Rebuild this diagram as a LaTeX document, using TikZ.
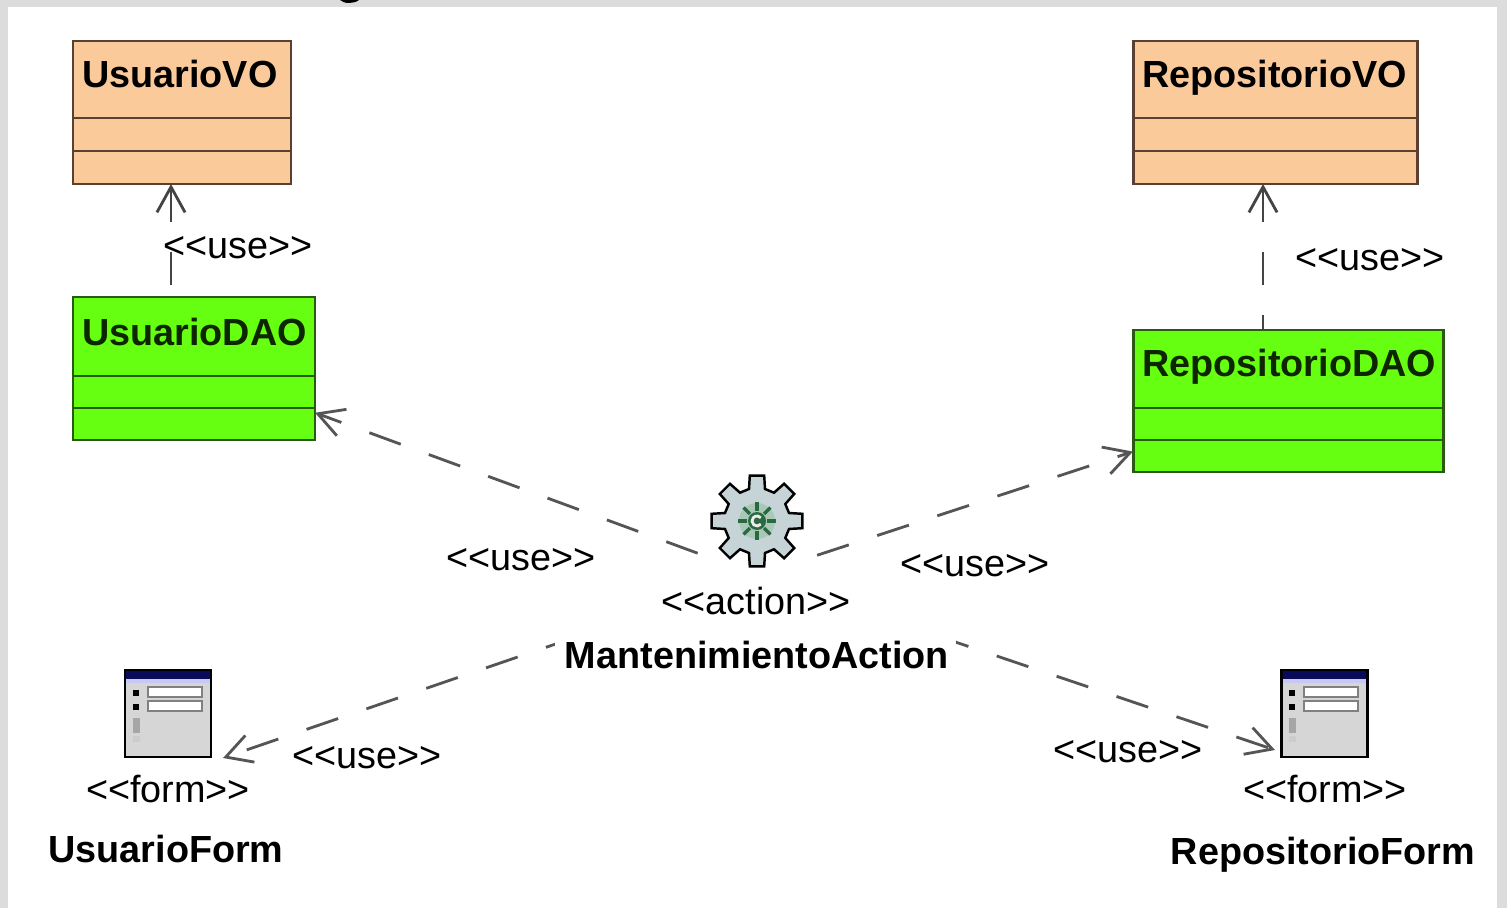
\documentclass[tikz,border=0pt]{standalone}
\usepackage{fontspec}
\setmainfont{Liberation Sans}
\usetikzlibrary{arrows.meta,calc}
\definecolor{peach}{HTML}{FBCA9B}
\definecolor{brownb}{HTML}{5A4030}
\definecolor{greenf}{HTML}{66FF11}
\definecolor{greenb}{HTML}{2A5A12}
\definecolor{greentxt}{HTML}{0E2600}
\definecolor{framegray}{HTML}{DCDCDC}
\definecolor{depgray}{HTML}{555555}
\definecolor{navy}{HTML}{0A0A5A}
\definecolor{lavender}{HTML}{C8C8F0}
\definecolor{formbody}{HTML}{D6D6D6}
\definecolor{gearfill}{HTML}{C6D4D8}
\definecolor{gearin}{HTML}{A9C8B8}
\definecolor{geargreen}{HTML}{2A6A40}
\def\px{0.02cm}
\newcommand\stl{<\kern0pt<}
\newcommand\stg{>\kern0pt>}
\newcommand\drawformicon[1]{%
  \begin{scope}[shift={(#1.north west)}]
    \fill[formbody] (0,0) rectangle (86,87);
    \fill[navy] (0,0) rectangle (86,9);
    \fill[lavender] (0,9) rectangle (86,13);
    \fill[black] (8,20) rectangle (14,26);
    \fill[black] (8,34) rectangle (14,40);
    \filldraw[fill=white, draw=gray, line width=0.6pt] (23,17) rectangle (77,27);
    \filldraw[fill=white, draw=gray, line width=0.6pt] (23,31) rectangle (77,41);
    \fill[gray!70] (8,48) rectangle (15,63);
    \fill[gray!40] (8,66) rectangle (15,72);
  \end{scope}
  \draw[black, line width=1.7pt] (#1.north west) rectangle (#1.south east);}
\begin{document}
\begin{tikzpicture}[x=0.02cm, y=-0.02cm,
  classbox/.style={draw, line width=1.7pt, inner sep=0pt, outer sep=0pt, anchor=north west},
  vobox/.style={classbox, fill=peach, draw=brownb},
  daobox/.style={classbox, fill=greenf, draw=greenb},
  cname/.style={font=\bfseries\fontsize{21.5}{24}\selectfont, anchor=base west, inner sep=0pt},
  ename/.style={font=\bfseries\fontsize{21.5}{24}\selectfont, inner sep=0pt},
  stereo/.style={font=\fontsize{21.5}{24}\selectfont, inner sep=0pt},
  formbox/.style={inner sep=0pt, outer sep=0pt, anchor=north west, minimum width=86*\px, minimum height=87*\px},
  dep/.style={draw=depgray, line width=1.6pt, dash pattern=on 19pt off 17pt,
    -{Straight Barb[length=14.5pt, width=16pt, line width=1.6pt]}},
  cover/.style={fill=white, inner sep=0pt}]
% frame
\useasboundingbox (0,0) rectangle (1507,908);
\fill[framegray] (0,0) rectangle (1507,908);
\fill[white] (8,7) rectangle (1497,908);
\fill[black] (340,0) .. controls (344,4) and (354,4) .. (359,0) -- cycle;

% classes
\node[vobox, minimum width=218*\px, minimum height=143*\px] (uvo) at (73,41) {};
\draw[brownb, line width=1.5pt] (uvo.north west) ++(0,77) -- ++(218,0);
\draw[brownb, line width=1.5pt] (uvo.north west) ++(0,110) -- ++(218,0);
\node[cname] (uvot) at (82,88) {UsuarioVO};

\node[vobox, minimum width=284*\px, minimum height=143*\px] (rvo) at (1133,41) {};
\draw[brownb, line width=1.5pt] (rvo.north west) ++(0,77) -- ++(284,0);
\draw[brownb, line width=1.5pt] (rvo.north west) ++(0,110) -- ++(284,0);
\node[cname] (rvot) at (1142,88) {RepositorioVO};

\node[daobox, minimum width=242*\px, minimum height=143*\px] (udao) at (73,297) {};
\draw[greenb, line width=1.5pt] (udao.north west) ++(0,79) -- ++(242,0);
\draw[greenb, line width=1.5pt] (udao.north west) ++(0,111) -- ++(242,0);
\node[cname, text=greentxt] (udaot) at (82,346) {UsuarioDAO};

\node[daobox, minimum width=310*\px, minimum height=142*\px] (rdao) at (1133,330) {};
\draw[greenb, line width=1.5pt] (rdao.north west) ++(0,78) -- ++(310,0);
\draw[greenb, line width=1.5pt] (rdao.north west) ++(0,110) -- ++(310,0);
\node[cname, text=greentxt] (rdaot) at (1142,377) {RepositorioDAO};

% forms
\node[formbox] (ufi) at (125,670) {};
\drawformicon{ufi}
\node[formbox] (rfi) at (1281,670) {};
\drawformicon{rfi}
\node[stereo] (uft) at (168,789) {\stl form\stg};
\node[ename] (ufn) at (166,849) {UsuarioForm};
\node[stereo] (rft) at (1325,789) {\stl form\stg};
\node[ename, anchor=base] (rfn) at (1323,864) {RepositorioForm};

% connector ends
\coordinate (act) at (757,575);
\coordinate (ufend) at (223,758);
\coordinate (rfend) at (1275,750);

% vertical dependencies
\draw[dep, {Straight Barb[length=14.5pt, width=16pt, line width=1.6pt]}-, draw=depgray!80!black]
  ([xshift=98*\px]uvo.south west) -- ([xshift=98*\px]udao.north west);
\draw[dep, {Straight Barb[length=14.5pt, width=16pt, line width=1.6pt]}-, draw=depgray!80!black]
  ([xshift=130*\px]rvo.south west) -- ([xshift=130*\px]rdao.north west);

% diagonal dependencies
\draw[dep] (act) -- (udao);
\draw[dep] (act) -- (rdao);
\draw[dep] (act) -- (ufend);
\draw[dep] (act) -- (rfend);

% action element
\node[cover, minimum width=92*\px, minimum height=93*\px] (gear) at (757,521) {};
\node[cover, minimum width=401*\px, minimum height=110*\px] (actbox) at (755.5,621) {};
\begin{scope}[shift={(gear.center)}]
  \filldraw[fill=gearfill, draw=black, line width=1.4pt]
    (-14:33) \foreach \a in {0,45,...,315}{ -- (\a-14:33) -- (\a-9:46) -- (\a+9:46) -- (\a+14:33)} -- cycle;
  \fill[gearin] (0,0) circle (18);
  \foreach \a in {0,45,...,315}{\draw[geargreen, line width=2pt] (\a:10) -- (\a:19);}
  \fill[geargreen] (0,0) circle (9);
  \draw[white!85!gray, line width=1.6pt] (40:5) arc (40:320:5);
\end{scope}
\node[stereo] (actst) at (756,601) {\stl action\stg};
\node[ename] (actn) at (757,655) {MantenimientoAction};

% use labels
\node[stereo] (l1) at (238,248) {\stl use\stg};
\node[stereo] (l2) at (1370,260) {\stl use\stg};
\node[stereo] (l3) at (521,560) {\stl use\stg};
\node[stereo] (l4) at (975,566) {\stl use\stg};
\node[stereo] (l5) at (367,758) {\stl use\stg};
\node[stereo] (l6) at (1128,752) {\stl use\stg};
\end{tikzpicture}
\end{document}
